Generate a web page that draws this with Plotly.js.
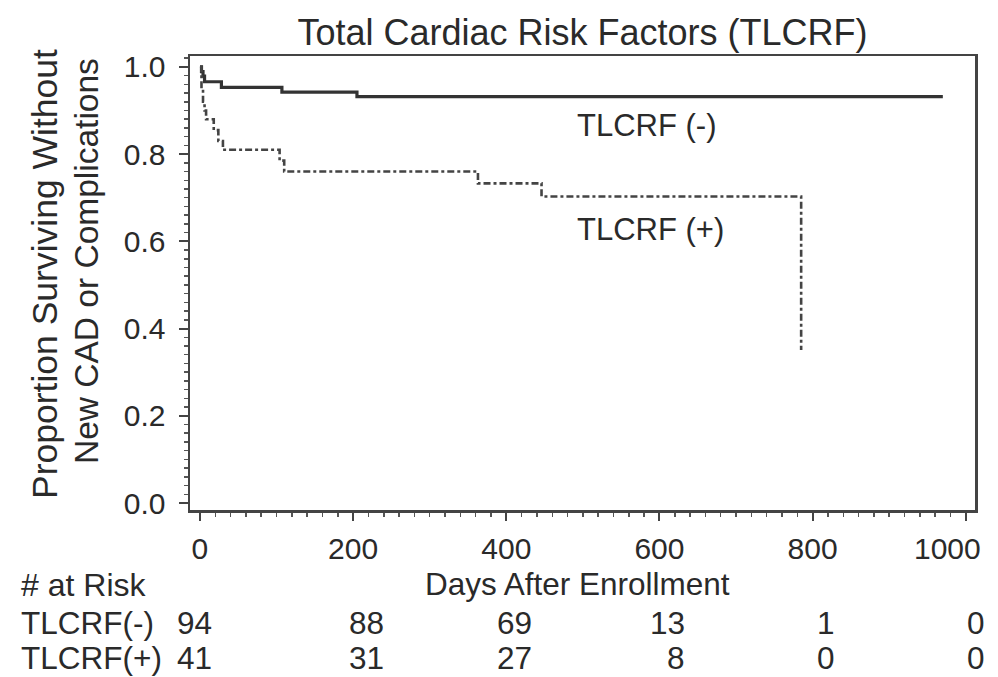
<!DOCTYPE html>
<html>
<head>
<meta charset="utf-8">
<script src="https://cdn.plot.ly/plotly-3.0.1.min.js"></script>
<style>
  html, body { margin: 0; padding: 0; background: #ffffff; }
  #chart { width: 998px; height: 677px; }
</style>
</head>
<body>
<div id="chart"></div>
<script>
// ---- Data ----
const chartTitle = "Total Cardiac Risk Factors (TLCRF)";
const yTitleLine1 = "Proportion Surviving Without";
const yTitleLine2 = "New CAD or Complications";
const xTitle = "Days After Enrollment";

const negName = "TLCRF (-)";
const negDays = [0, 2, 4, 6, 28, 107, 205, 970];
const negSurv = [1.0, 0.989, 0.979, 0.966, 0.953, 0.942, 0.932, 0.932];

const posName = "TLCRF (+)";
const posDays = [0, 2, 4, 6, 8, 18, 24, 30, 104, 110, 363, 446, 785];
const posSurv = [1.0, 0.95, 0.92, 0.90, 0.88, 0.855, 0.83, 0.81, 0.785, 0.76, 0.733, 0.703, 0.351];

const xTicks = [0, 200, 400, 600, 800, 1000];
const xTickLabels = ["0", "200", "400", "600", "800", "1000"];
const yTicks = [0.0, 0.2, 0.4, 0.6, 0.8, 1.0];

const riskHeader = "# at Risk";
const riskRowLabels = ["TLCRF(-)", "TLCRF(+)"];
const riskDays = [0, 200, 400, 600, 800, 1000];
const riskNeg = [94, 88, 69, 13, 1, 0];
const riskPos = [41, 31, 27, 8, 0, 0];

// ---- Styling ----
const FONT = '"Liberation Sans", Arial, Helvetica, sans-serif';
const INK = '#2a2a2a';
const W = 998, H = 677;
const M = { l: 190, r: 23, t: 56, b: 167 };
const plotW = W - M.l - M.r, plotH = H - M.t - M.b;
const px2paperX = p => (p - M.l) / plotW;
const px2paperY = p => (H - M.b - p) / plotH;
const riskShift = [14, 33, 28, 28, 24, 21];
const last = xTickLabels.length - 1;
// the last tick label is drawn a little inside the frame, as in the reference
const xTickText = xTickLabels.map((t, i) => i === last ? '' : t);

const traces = [
  { x: negDays, y: negSurv, name: negName, type: 'scatter', mode: 'lines',
    line: { shape: 'hv', color: '#333333', width: 3.2 }, hoverinfo: 'x+y' },
  { x: posDays, y: posSurv, name: posName, type: 'scatter', mode: 'lines',
    line: { shape: 'hv', color: '#444444', width: 2.6, dash: '7px,3px,3px,3px' }, hoverinfo: 'x+y' }
];

const txt = (size) => ({ family: FONT, size: size, color: INK });

const annotations = [
  { text: negName, xref: 'x', yref: 'y', x: 490, y: 0.865, xanchor: 'left', yanchor: 'middle',
    showarrow: false, font: txt(31) },
  { text: posName, xref: 'x', yref: 'y', x: 490, y: 0.628, xanchor: 'left', yanchor: 'middle',
    showarrow: false, font: txt(31) },
  { text: xTickLabels[last], xref: 'x', yref: 'paper', x: xTicks[last], y: px2paperY(548),
    xanchor: 'center', yanchor: 'middle', xshift: -18, showarrow: false, font: txt(30) },
  { text: yTitleLine1, xref: 'paper', yref: 'paper', x: px2paperX(45), y: px2paperY(274),
    xanchor: 'center', yanchor: 'middle', textangle: -90, showarrow: false, font: txt(35.5) },
  { text: yTitleLine2, xref: 'paper', yref: 'paper', x: px2paperX(86), y: px2paperY(261),
    xanchor: 'center', yanchor: 'middle', textangle: -90, showarrow: false, font: txt(33.5) },
  { text: xTitle, xref: 'paper', yref: 'paper', x: px2paperX(577), y: px2paperY(584),
    xanchor: 'center', yanchor: 'middle', showarrow: false, font: txt(31.5) },
  { text: riskHeader, xref: 'paper', yref: 'paper', x: px2paperX(19), y: px2paperY(585),
    xanchor: 'left', yanchor: 'middle', showarrow: false, font: txt(32) }
];
const rowY = [623, 658];
riskRowLabels.forEach((lab, i) => {
  annotations.push({ text: lab, xref: 'paper', yref: 'paper', x: px2paperX(19), y: px2paperY(rowY[i]),
    xanchor: 'left', yanchor: 'middle', showarrow: false, font: txt(31.5) });
});
[riskNeg, riskPos].forEach((row, r) => {
  row.forEach((v, j) => {
    annotations.push({ text: String(v), xref: 'x', yref: 'paper', x: riskDays[j], y: px2paperY(rowY[r]),
      xanchor: 'right', yanchor: 'middle', xshift: riskShift[j], showarrow: false, font: txt(31.5) });
  });
});

const layout = {
  width: W, height: H,
  margin: M,
  paper_bgcolor: '#ffffff', plot_bgcolor: '#ffffff',
  showlegend: false,
  font: { family: FONT, color: INK },
  title: { text: chartTitle, x: 0.5, xref: 'paper', y: 1 - 32 / H, yanchor: 'middle',
           font: txt(36) },
  xaxis: {
    range: [-13, 1012], tickvals: xTicks, ticktext: xTickText, ticks: 'outside', ticklen: 8, tickwidth: 2,
    tickcolor: '#444', showline: true, linecolor: '#444', linewidth: 2.5, mirror: true, showgrid: false,
    zeroline: false, tickfont: txt(30), ticklabelstandoff: 2,
    minor: { dtick: 20, ticks: 'outside', ticklen: 4, tickwidth: 1.5, tickcolor: '#555', showgrid: false }
  },
  yaxis: {
    range: [-0.016, 1.025], tickvals: yTicks, tickformat: '.1f', ticks: 'outside', ticklen: 9, tickwidth: 2,
    tickcolor: '#444', showline: true, linecolor: '#444', linewidth: 2.5, mirror: true, showgrid: false,
    zeroline: false, tickfont: txt(30), ticklabelstandoff: 7,
    minor: { dtick: 0.02, ticks: 'outside', ticklen: 4, tickwidth: 1.5, tickcolor: '#555', showgrid: false }
  },
  annotations: annotations
};

Plotly.newPlot('chart', traces, layout, { staticPlot: true, displayModeBar: false });
</script>
</body>
</html>
